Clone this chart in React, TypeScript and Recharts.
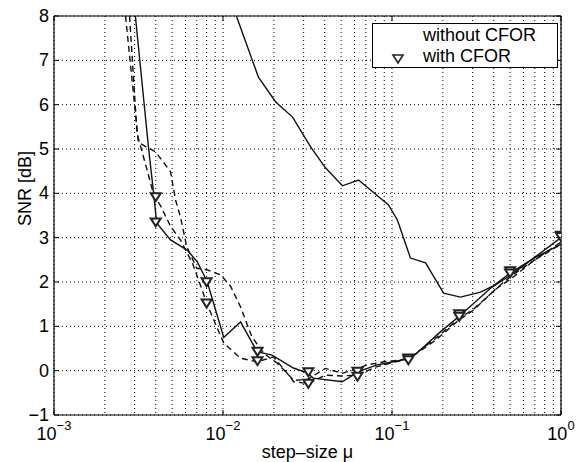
import React from 'react';
import { LineChart, Line, XAxis, YAxis, CartesianGrid, ReferenceLine, Legend, Label } from 'recharts';

// ---- data ----
const xTicks = [
  0.001, 0.002, 0.003, 0.004, 0.005, 0.006, 0.007, 0.008, 0.009,
  0.01, 0.02, 0.03, 0.04, 0.05, 0.06, 0.07, 0.08, 0.09,
  0.1, 0.2, 0.3, 0.4, 0.5, 0.6, 0.7, 0.8, 0.9, 1,
];
const decadeTicks = [0.001, 0.01, 0.1, 1];
const decadeExponents = ['−3', '−2', '−1', '0'];
const yTicks = [-1, 0, 1, 2, 3, 4, 5, 6, 7, 8];

// solid curve, without CFOR (upper)
const solidHighMu = [0.012, 0.0162, 0.0205, 0.0258, 0.033, 0.0405, 0.0509, 0.0634, 0.0953, 0.1076, 0.1286, 0.158, 0.202, 0.254, 0.334, 0.4, 0.5, 0.7, 1.0];
const solidHighSnr = [8.0, 6.62, 6.06, 5.72, 5.05, 4.57, 4.17, 4.3, 3.74, 3.4, 2.54, 2.43, 1.75, 1.66, 1.77, 1.92, 2.2, 2.55, 2.85];

// solid curve (lower)
const solidLowMu = [0.00303, 0.00362, 0.0039, 0.00405, 0.00489, 0.00614, 0.00703, 0.00806, 0.0101, 0.0127, 0.0159, 0.0195, 0.0261, 0.0315, 0.0343, 0.0507, 0.0634, 0.0815, 0.102, 0.1286, 0.1475, 0.194, 0.254, 0.383, 0.524, 1.0];
const solidLowSnr = [8.0, 5.05, 3.95, 3.33, 2.95, 2.72, 2.46, 2.01, 0.75, 1.1, 0.43, 0.35, 0.06, -0.05, -0.17, -0.25, -0.02, 0.13, 0.2, 0.28, 0.47, 0.88, 1.25, 1.86, 2.2, 3.0];

// dashed curve (upper)
const dashedUpMu = [0.00265, 0.00316, 0.004, 0.00427, 0.00489, 0.00524, 0.0056, 0.0061, 0.007, 0.0081, 0.0097, 0.0111, 0.0127, 0.0148, 0.0174, 0.0209, 0.024, 0.0262, 0.0315, 0.0403, 0.0507, 0.058, 0.0716, 0.0895, 0.1125, 0.1286, 0.18, 0.25, 0.3, 0.418, 0.525, 0.7, 1.0];
const dashedUpSnr = [8.0, 5.15, 4.93, 4.79, 4.49, 3.85, 3.47, 2.8, 2.31, 2.27, 2.16, 1.9, 1.44, 0.77, 0.39, 0.17, -0.06, -0.22, -0.2, 0.05, -0.06, 0.01, 0.13, 0.2, 0.24, 0.3, 0.72, 1.18, 1.37, 1.86, 2.12, 2.5, 2.85];

// dashed curve (lower)
const dashedLowMu = [0.0028, 0.0031, 0.0036, 0.0039, 0.0043, 0.0049, 0.0056, 0.0066, 0.0074, 0.008, 0.0101, 0.0127, 0.0159, 0.0199, 0.024, 0.0262, 0.032, 0.0403, 0.05, 0.0625, 0.08, 0.1, 0.125, 0.18, 0.25, 0.3, 0.4, 0.5, 0.7, 1.0];
const dashedLowSnr = [8.0, 5.35, 4.45, 3.95, 3.7, 3.25, 2.95, 2.42, 1.9, 1.52, 0.62, 0.28, 0.2, 0.31, -0.06, -0.25, -0.29, -0.1, -0.12, -0.1, 0.08, 0.18, 0.26, 0.68, 1.15, 1.35, 1.8, 2.12, 2.5, 2.9];

// with CFOR markers
const cforMu = [0.004, 0.008, 0.016, 0.032, 0.0625, 0.125, 0.25, 0.5, 1.0];
const cforSnrA = [3.92, 2.0, 0.43, -0.03, -0.02, 0.28, 1.28, 2.25, 3.05];
const cforSnrB = [3.35, 1.52, 0.22, -0.29, -0.13, 0.24, 1.22, 2.2, 3.02];

const pts = (xs: number[], ys: number[]) => xs.map((mu, i) => ({ mu, snr: ys[i] }));

const FONT = '"Liberation Sans", Arial, Helvetica, sans-serif';
const W = 578;
const H = 462;
const MARGIN = { top: 16, right: 17, left: 0, bottom: 0 };
const YAXIS_W = 54;
const XAXIS_H = 47;
const PLOT_LEFT = MARGIN.left + YAXIS_W;
const PLOT_RIGHT = W - MARGIN.right;
const PLOT_TOP = MARGIN.top;
const PLOT_BOTTOM = H - MARGIN.bottom - XAXIS_H;
const TICK_LEN = 5;

const XTick = (props: any) => {
  const { x, y, payload } = props;
  const idx = decadeTicks.findIndex((d) => Math.abs(d - payload.value) < 1e-12);
  if (idx < 0) return <g />;
  return (
    <g>
      <line x1={x} x2={x} y1={PLOT_BOTTOM} y2={PLOT_BOTTOM - TICK_LEN} stroke="#000" strokeWidth={1} />
      <line x1={x} x2={x} y1={PLOT_TOP} y2={PLOT_TOP + TICK_LEN} stroke="#000" strokeWidth={1} />
      <text x={x} y={y} textAnchor="middle" fontFamily={FONT} fill="#000">
        <tspan fontSize={18} dy={25}>10</tspan>
        <tspan fontSize={13} dy={-10}>{decadeExponents[idx]}</tspan>
      </text>
    </g>
  );
};

const YTick = (props: any) => {
  const { x, y, payload } = props;
  const v = payload.value as number;
  const label = v < 0 ? '−' + Math.abs(v) : String(v);
  return (
    <g>
      <line x1={PLOT_LEFT} x2={PLOT_LEFT + TICK_LEN} y1={y} y2={y} stroke="#000" strokeWidth={1} />
      <line x1={PLOT_RIGHT} x2={PLOT_RIGHT - TICK_LEN} y1={y} y2={y} stroke="#000" strokeWidth={1} />
      <text x={x} y={y} dy={6} textAnchor="end" fontFamily={FONT} fontSize={18} fill="#000">
        {label}
      </text>
    </g>
  );
};

const YLabel = (props: any) => {
  const vb = props.viewBox || { x: 0, y: PLOT_TOP, width: YAXIS_W, height: PLOT_BOTTOM - PLOT_TOP };
  const cx = vb.x + 25;
  const cy = vb.y + vb.height / 2 - 27;
  return (
    <text
      x={cx}
      y={cy}
      transform={`rotate(-90 ${cx} ${cy})`}
      textAnchor="middle"
      dominantBaseline="central"
      fontFamily={FONT}
      fontSize={18}
      fill="#000"
    >
      SNR [dB]
    </text>
  );
};

const Triangle = (props: any) => {
  const { cx, cy, index } = props;
  if (cx == null || cy == null) return <g key={index} />;
  const s = 5;
  const d = `M${cx - s},${cy - s * 0.75} L${cx + s},${cy - s * 0.75} L${cx},${cy + s * 0.85} Z`;
  return <path key={index} d={d} fill="#fff" stroke="#222" strokeWidth={2} />;
};

const LegendBox = () => (
  <div
    style={{
      position: 'absolute',
      left: 372,
      top: 23,
      width: 186,
      height: 45,
      border: '1px solid #000',
      background: '#fff',
      fontFamily: FONT,
      fontSize: 18,
      color: '#000',
      boxSizing: 'border-box',
    }}
  >
    <div style={{ position: 'absolute', left: 50, top: 1, whiteSpace: 'nowrap', lineHeight: '20px' }}>without CFOR</div>
    <svg style={{ position: 'absolute', left: 18, top: 29 }} width={14} height={12}>
      <path d="M2,2 L12,2 L7,10 Z" fill="#fff" stroke="#222" strokeWidth={1.6} />
    </svg>
    <div style={{ position: 'absolute', left: 50, top: 22, whiteSpace: 'nowrap', lineHeight: '20px' }}>with CFOR</div>
  </div>
);

export default function App() {
  return (
    <div style={{ position: 'absolute', left: 0, top: 0, width: W, height: H, background: '#fff' }}>
      <LineChart width={W} height={H} margin={MARGIN}>
        <CartesianGrid stroke="#000" strokeDasharray="1 3" strokeWidth={1} />
        <XAxis
          dataKey="mu"
          type="number"
          scale="log"
          domain={[0.001, 1]}
          ticks={xTicks}
          allowDataOverflow
          interval={0}
          height={XAXIS_H}
          tickLine={false}
          tickSize={0}
          tickMargin={0}
          tick={<XTick />}
          axisLine={{ stroke: '#000', strokeWidth: 1.2 }}
          label={{
            value: 'step–size μ',
            position: 'insideBottom',
            offset: 4,
            fill: '#000',
            fontSize: 18,
            fontFamily: FONT,
          }}
        />
        <YAxis
          type="number"
          domain={[-1, 8]}
          ticks={yTicks}
          allowDataOverflow
          interval={0}
          width={YAXIS_W}
          tickLine={false}
          tickSize={0}
          tickMargin={5}
          tick={<YTick />}
          axisLine={{ stroke: '#000', strokeWidth: 1.2 }}
        >
          <Label content={<YLabel />} />
        </YAxis>
        <ReferenceLine y={8} stroke="#000" strokeWidth={1.2} ifOverflow="visible" />
        <ReferenceLine x={1} stroke="#000" strokeWidth={1.2} ifOverflow="visible" />
        <Line data={pts(solidHighMu, solidHighSnr)} dataKey="snr" stroke="#111" strokeWidth={1.4} dot={false} isAnimationActive={false} />
        <Line data={pts(solidLowMu, solidLowSnr)} dataKey="snr" stroke="#111" strokeWidth={1.4} dot={false} isAnimationActive={false} />
        <Line data={pts(dashedUpMu, dashedUpSnr)} dataKey="snr" stroke="#111" strokeWidth={1.4} strokeDasharray="6 4" dot={false} isAnimationActive={false} />
        <Line data={pts(dashedLowMu, dashedLowSnr)} dataKey="snr" stroke="#111" strokeWidth={1.4} strokeDasharray="6 4" dot={false} isAnimationActive={false} />
        <Line data={pts(cforMu, cforSnrA)} dataKey="snr" stroke="none" dot={<Triangle />} activeDot={false} isAnimationActive={false} />
        <Line data={pts(cforMu, cforSnrB)} dataKey="snr" stroke="none" dot={<Triangle />} activeDot={false} isAnimationActive={false} />
        <Legend verticalAlign="middle" layout="horizontal" content={() => <LegendBox />} wrapperStyle={{ position: 'absolute', left: 0, top: 0, width: 0, height: 0 }} />
      </LineChart>
    </div>
  );
}
